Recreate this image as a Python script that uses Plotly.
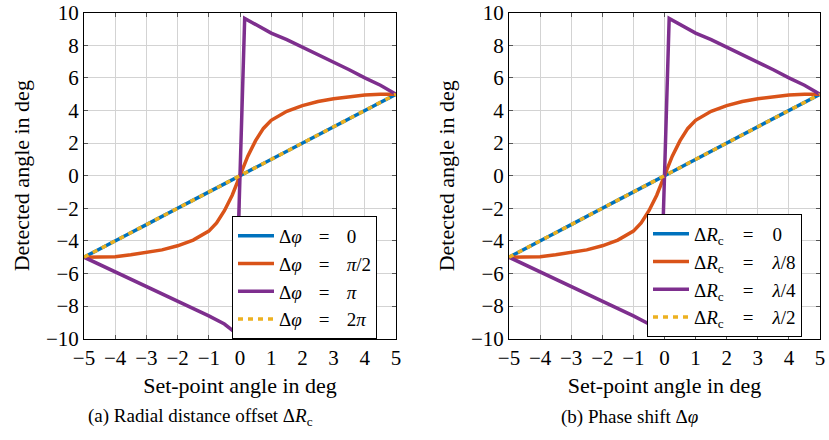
import plotly.graph_objects as go

# ---- data ----
lin_x = [-5, -4.5, -4, -3.5, -3, -2.5, -2, -1.5, -1, -0.5, 0, 0.5, 1, 1.5, 2, 2.5, 3, 3.5, 4, 4.5, 5]
lin_y = [-5, -4.48, -4.02, -3.5, -3.0, -2.52, -2.0, -1.5, -1.02, -0.5, 0, 0.5, 1.0, 1.52, 2.0, 2.5, 3.02, 3.5, 4.0, 4.5, 5]

half_x = [-5, -4.5, -4, -3.5, -3, -2.5, -2, -1.5, -1, -0.75, -0.5, -0.25, 0,
          0.25, 0.5, 0.75, 1, 1.5, 2, 2.5, 3, 3.5, 4, 4.5, 5]
half_y = [-5, -5.0, -4.97, -4.85, -4.72, -4.55, -4.3, -3.95, -3.4, -2.9, -2.15, -1.2, 0,
          1.2, 2.15, 2.9, 3.4, 3.95, 4.3, 4.55, 4.72, 4.85, 4.95, 5.0, 5.0]

pi_x = [-5, -4.5, -4, -3.5, -3, -2.5, -2, -1.5, -1, -0.5, -0.15,
        0.15, 0.5, 1, 1.5, 2, 2.5, 3, 3.5, 4, 4.5, 5]
pi_y = [-5, -5.45, -5.85, -6.3, -6.75, -7.2, -7.65, -8.1, -8.6, -9.1, -9.63,
        9.65, 9.3, 8.75, 8.35, 7.9, 7.4, 6.95, 6.5, 6.0, 5.55, 5.0]

x_ticks = [-5, -4, -3, -2, -1, 0, 1, 2, 3, 4, 5]
y_ticks = [-10, -8, -6, -4, -2, 0, 2, 4, 6, 8, 10]

SA = "\u2002\u2009\u2009=\u2009\u2009\u2002"
SB = "\u2003=\u2003"
names_a = ["Δ<i>φ</i>" + SA + "0", "Δ<i>φ</i>" + SA + "<i>π</i>/2",
           "Δ<i>φ</i>" + SA + "<i>π</i>", "Δ<i>φ</i>" + SA + "2<i>π</i>"]
names_b = ["Δ<i>R</i><sub>c</sub>" + SB + "0", "Δ<i>R</i><sub>c</sub>" + SB + "<i>λ</i>/8",
           "Δ<i>R</i><sub>c</sub>" + SB + "<i>λ</i>/4", "Δ<i>R</i><sub>c</sub>" + SB + "<i>λ</i>/2"]
captions = ["(a) Radial distance offset Δ<i>R</i><sub>c</sub>", "(b) Phase shift Δ<i>φ</i>"]

colors = ["#0072BD", "#D95319", "#7E2F8E", "#EDB120"]
FONT = "Liberation Serif"

fig = go.Figure()

series = [(lin_x, lin_y, "solid"), (half_x, half_y, "solid"), (pi_x, pi_y, "solid"), (lin_x, lin_y, "5px,5px")]

for k, (names, xa, ya, leg) in enumerate([(names_a, "x", "y", "legend"), (names_b, "x2", "y2", "legend2")]):
    for i, (sx, sy, dash) in enumerate(series):
        fig.add_trace(go.Scatter(
            x=sx, y=sy, mode="lines", name=names[i],
            line=dict(color=colors[i], width=3.5, dash=dash),
            xaxis=xa, yaxis=ya, legend=leg))

axis_common = dict(
    range=[-5, 5], tickvals=x_ticks, showgrid=True, gridcolor="#d3d3d3", gridwidth=1,
    showline=True, linecolor="black", linewidth=1, mirror="ticks",
    ticks="inside", ticklen=4, tickcolor="#555", zeroline=False, automargin=False,
    tickfont=dict(family=FONT, size=21, color="black"),
)
yaxis_common = dict(axis_common)
yaxis_common.update(range=[-10, 10], tickvals=y_ticks)

xtitle = dict(text="Set-point angle in deg", standoff=8, font=dict(family=FONT, size=22))
ytitle = dict(text="Detected angle in deg", standoff=10, font=dict(family=FONT, size=22))

top, bottom = 1 - 12.7 / 440, 1 - 338.7 / 440
leg_common = dict(xanchor="left", yanchor="top", bgcolor="white", bordercolor="black",
                  borderwidth=1, font=dict(family=FONT, size=19), itemwidth=36)
fig.update_layout(
    width=829, height=440, margin=dict(l=0, r=0, t=0, b=0),
    plot_bgcolor="white", paper_bgcolor="white",
    font=dict(family=FONT, size=19, color="black"),
    xaxis=dict(axis_common, domain=[84 / 829, 396 / 829], anchor="y", title=xtitle),
    yaxis=dict(yaxis_common, domain=[bottom, top], anchor="x", title=ytitle),
    xaxis2=dict(axis_common, domain=[509 / 829, 820 / 829], anchor="y2", title=xtitle),
    yaxis2=dict(yaxis_common, domain=[bottom, top], anchor="x2", title=ytitle),
    legend=dict(leg_common, x=232 / 829, y=1 - 216 / 440),
    legend2=dict(leg_common, x=647 / 829, y=1 - 214 / 440),
    annotations=[
        dict(text=captions[0], x=86 / 829, y=1 - 417 / 440, xref="paper", yref="paper",
             xanchor="left", yanchor="middle", showarrow=False, font=dict(family=FONT, size=19)),
        dict(text=captions[1], x=559 / 829, y=1 - 417 / 440, xref="paper", yref="paper",
             xanchor="left", yanchor="middle", showarrow=False, font=dict(family=FONT, size=19)),
    ],
)

fig.write_html("out.html")
